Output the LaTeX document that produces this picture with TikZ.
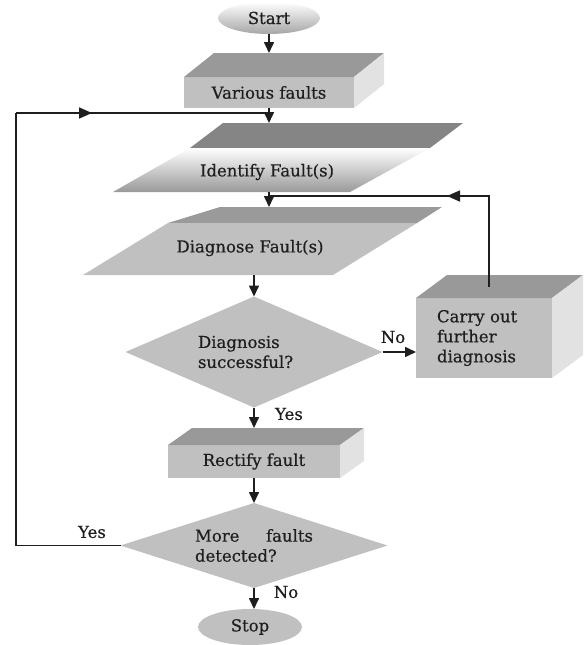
\documentclass[tikz,border=0pt]{standalone}
\usepackage{fontspec}
\setmainfont{DejaVu Serif}[FakeBold=0.5]
\usetikzlibrary{shapes.geometric,arrows.meta,decorations.markings}
\definecolor{facegray}{HTML}{C0C0C0}
\definecolor{topc}{HTML}{999999}
\definecolor{sidec}{HTML}{E2E2E2}
\definecolor{idtop}{HTML}{858585}
\definecolor{dgtop}{HTML}{9A9A9A}
\definecolor{linec}{HTML}{1E1E1E}
\begin{document}
\begin{tikzpicture}[x=1pt,y=-1pt,
  txt/.style={font=\fontsize{16.5}{20}\selectfont, text=linec},
  frontbox/.style={rectangle, fill=facegray, inner sep=0pt, outer sep=0pt, txt},
  decision/.style={diamond, fill=facegray, inner sep=0pt, outer sep=0pt, aspect=3, txt, text width=#1, align=left},
  ln/.style={draw=linec, line width=1.6pt},
  arr/.style={ln, -{Triangle[length=11pt,width=10pt]}},
  midarrow/.style={postaction={decorate}, decoration={markings, mark=at position #1 with {\arrow[linec]{Triangle[length=13pt,width=11pt]}}}}
]
\fill[white] (0,0) rectangle (584,645);
\useasboundingbox (0,0) rectangle (584,645);

% Start
\node[ellipse, minimum width=102pt, minimum height=32pt, inner sep=0pt, outer sep=0pt,
      top color=white, bottom color=black!35, txt] (start) at (269,18) {Start};

% Various faults
\node[frontbox, minimum width=170pt, minimum height=31pt] (vf) at (269,92.5) {Various faults};
\fill[topc] (vf.north west) -- ++(30,-24) -- ++(170,0) -- (vf.north east) -- cycle;
\fill[sidec] (vf.north east) -- ++(30,-24) -- ++(0,31) -- (vf.south east) -- cycle;
\draw[arr] (start.south) -- ([yshift=24pt]vf.north);

% Identify Fault(s)
\fill[idtop] (223,123) -- (463,123) -- (430,148) -- (190,148) -- cycle;
\shade[top color=white, bottom color=black!40] (190,148) -- (430,148) -- (350,192) -- (113,192) -- cycle;
\node[txt] (idf) at (267,172) {Identify Fault(s)};
\coordinate (idfT) at (269,123);
\coordinate (idfB) at (269,192);
\draw[arr] (vf.south) -- (idfT);

% Diagnose Fault(s)
\fill[dgtop] (220,207) -- (442,207) -- (417,223) -- (168,223) -- cycle;
\fill[facegray] (168,223) -- (417,223) -- (333,275) -- (83,275) -- cycle;
\node[txt] (dgf) at (250,248) {Diagnose Fault(s)};
\coordinate (dgfT) at (269,207);
\coordinate (dgfB) at (254,275);
\draw[arr] (idfB) -- (dgfT);

% Decision 1
\node[decision=112pt, minimum width=257pt, minimum height=111pt] (dd) at (254,352) {Diagnosis\\successful?};
\draw[arr] (dgfB) -- (dd.north);

% Carry out further diagnosis
\node[frontbox, minimum width=136pt, minimum height=80pt, text width=94pt, align=left] (cof) at (484,338) {Carry out\\further\\diagnosis};
\fill[topc] (cof.north west) -- ++(31,-23) -- ++(136,0) -- (cof.north east) -- cycle;
\fill[sidec] (cof.north east) -- ++(31,-23) -- ++(0,80) -- (cof.south east) -- cycle;
\draw[arr] (dd.east) -- (dd.east -| cof.west);
\node[txt] (no1) at (393,337) {No};
\coordinate (cot) at (489,287);
\coordinate (cjoin) at (269,196);
\draw[ln, midarrow=133pt] (cot) |- (cjoin);

% Rectify fault
\node[frontbox, minimum width=172pt, minimum height=33pt] (rf) at (254,461.5) {Rectify fault};
\fill[topc] (rf.north west) -- ++(24,-17) -- ++(172,0) -- (rf.north east) -- cycle;
\fill[sidec] (rf.north east) -- ++(24,-17) -- ++(0,33) -- (rf.south east) -- cycle;
\draw[arr] (dd.south) -- ([yshift=17pt]rf.north);
\node[txt] (yes1) at (289,414) {Yes};

% Decision 2
\node[decision=118pt, minimum width=267pt, minimum height=85pt] (md) at (254,545.5) {More\hfill faults\\detected?};
\draw[arr] (rf.south) -- (md.north);
\node[txt] (yes2) at (92,532) {Yes};

% Loop back
\coordinate (lcorner) at (16,113);
\coordinate (ljoin) at (269,113);
\draw[ln] (md.west) -| (lcorner);
\draw[ln, midarrow=76pt] (lcorner) -- (ljoin);

% Stop
\node[ellipse, fill=facegray, minimum width=104pt, minimum height=36pt, inner sep=0pt, outer sep=0pt, txt] (stop) at (250,627) {Stop};
\draw[arr] (md.south) -- (md.south |- stop.north);
\node[txt] (no2) at (286,592) {No};
\end{tikzpicture}
\end{document}
